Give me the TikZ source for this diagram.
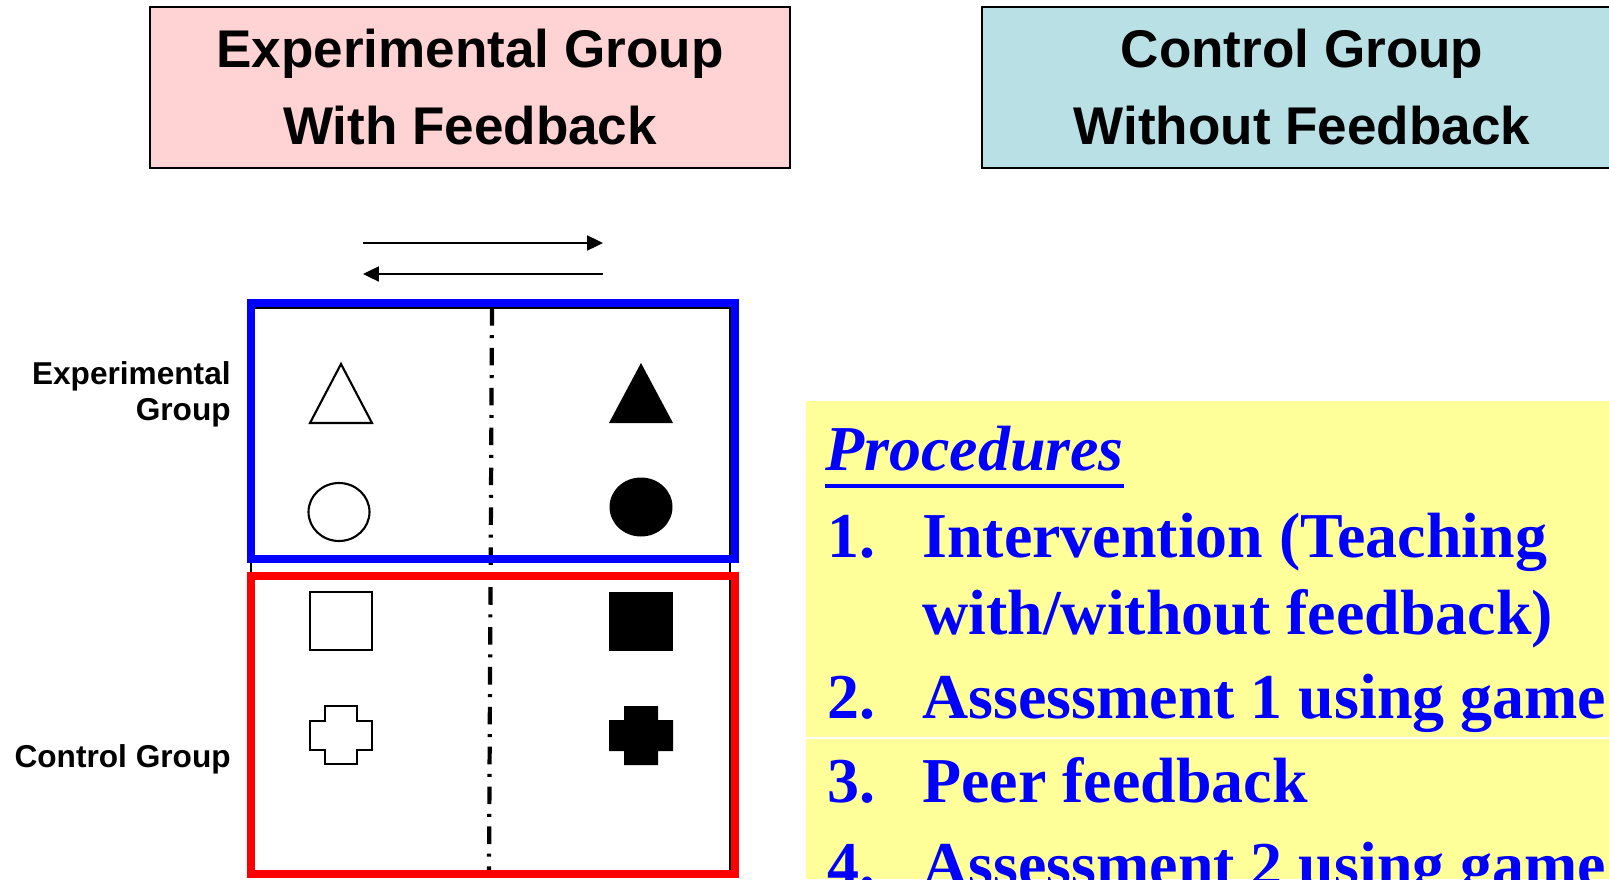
\documentclass[tikz,border=0pt]{standalone}
\usepackage{fontspec}
\setmainfont{Liberation Serif}
\setsansfont{Liberation Sans}
\usetikzlibrary{arrows.meta}

\definecolor{headpink}{RGB}{255,210,212}
\definecolor{headcyan}{RGB}{185,224,228}
\definecolor{procyellow}{RGB}{255,255,153}

\tikzset{
	header/.style={draw=black,line width=1.1pt,minimum width=12.8cm,minimum height=3.22cm,align=center,inner sep=0pt,font=\sffamily\bfseries\fontsize{30.2}{43.8}\selectfont},
	sidelabel/.style={align=right,inner sep=0pt,font=\sffamily\bfseries\fontsize{18}{20.5}\selectfont},
	proc/.style={anchor=base west,inner sep=0pt,text=blue,font=\rmfamily\bfseries\fontsize{36.4}{40}\selectfont},
	symbol/.style={line width=1.2pt},
	flow/.style={line width=1.1pt,-{Triangle[length=9pt,width=8.5pt]}},
	divider/.style={line width=2.4pt,dash pattern=on 10pt off 5.5pt on 1.7pt off 5.5pt}
}

\begin{document}
\begin{tikzpicture}[x=0.02cm,y=-0.02cm]
		\clip (0,0) rectangle (1609,879);
		% group headers
		\node[header,fill=headpink] (expgroup) at (470,87.5) {Experimental Group\\With Feedback};
		\node[header,fill=headcyan] (ctrlgroup) at (1302,87.5) {Control Group\\Without Feedback};
		% arrows
		\coordinate (fwdstart) at (363,243);
		\coordinate (fwdend) at (603,243);
		\coordinate (backstart) at (603,274);
		\coordinate (backend) at (363,274);
		\draw[flow] (fwdstart) -- (fwdend);
		\draw[flow] (backstart) -- (backend);
		% design grid
		\draw[line width=1.1pt] (251,308) rectangle (730,873);
		\draw[divider] (492,308) -- (489,873);
		\draw[blue,line width=4.6pt] (251,303) rectangle (735,559);
		\draw[red,line width=4.6pt] (251,576) rectangle (735,874);
		\node[sidelabel,anchor=east] (explabel) at (231,394) {Experimental\\Group};
		\node[sidelabel,anchor=base east] (ctrllabel) at (231,767) {Control Group};
		% symbols
		\draw[symbol] (310,423) -- (372,423) -- (341,364) -- cycle;
		\fill (609,423) -- (673,423) -- (641,363) -- cycle;
		\draw[symbol] (339,512) ellipse [x radius=0.61cm,y radius=0.58cm];
		\fill (641,507) ellipse [x radius=0.63cm,y radius=0.59cm];
		\draw[symbol] (310,592) rectangle (372,650);
		\fill (609,592) rectangle (673,651);
		\draw[symbol] (325,706) -- (357,706) -- (357,721) -- (372,721) -- (372,750) -- (357,750) -- (357,764) -- (325,764) -- (325,750) -- (310,750) -- (310,721) -- (325,721) -- cycle;
		\fill (624,706) -- (658,706) -- (658,720) -- (673,720) -- (673,751) -- (658,751) -- (658,765) -- (624,765) -- (624,751) -- (609,751) -- (609,720) -- (624,720) -- cycle;
		% procedures
		\fill[procyellow] (806,401) rectangle (1609,879);
		\draw[white,line width=0.6pt] (806,738) -- (1609,738);
		\node[proc,font=\rmfamily\bfseries\itshape\fontsize{36.4}{40}\selectfont] (proctitle) at (825,470) {Procedures};
		\draw[blue,line width=2.3pt] ([yshift=-9.1pt]proctitle.base west) -- ([yshift=-9.1pt]proctitle.base east);
		\node[proc] (num1) at (827,557) {1.};
		\node[proc] (step1a) at (922,557) {Intervention (Teaching};
		\node[proc] (step1b) at (922,634) {with/without feedback)};
		\node[proc] (num2) at (827,718) {2.};
		\node[proc] (step2) at (922,718) {Assessment 1 using game};
		\node[proc] (num3) at (827,802) {3.};
		\node[proc] (step3) at (922,802) {Peer feedback};
		\node[proc] (num4) at (827,886) {4.};
		\node[proc] (step4) at (922,886) {Assessment 2 using game};
\end{tikzpicture}
\end{document}
